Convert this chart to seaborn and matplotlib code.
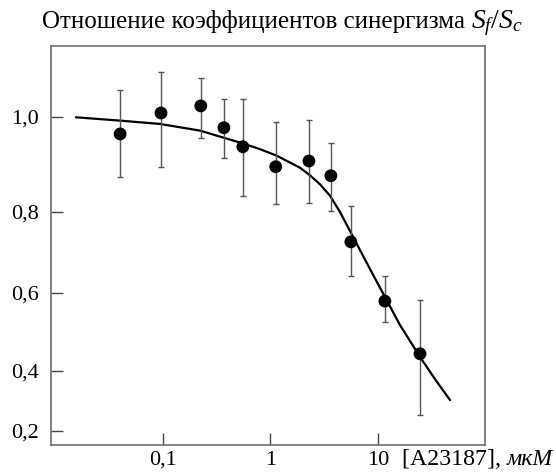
import numpy as np
import pandas as pd
import matplotlib
matplotlib.use("Agg")
import matplotlib.pyplot as plt
import seaborn as sns

# ---- data ----
conc = [0.040, 0.096, 0.225, 0.369, 0.554, 1.12, 2.28, 3.65, 5.6, 11.6, 24.6]
ratio = [0.964, 1.008, 1.023, 0.977, 0.937, 0.895, 0.907, 0.876, 0.726, 0.579, 0.444]
err_low = [0.874, 0.895, 0.956, 0.914, 0.834, 0.817, 0.819, 0.802, 0.642, 0.526, 0.253]
err_high = [1.057, 1.095, 1.082, 1.038, 1.038, 0.989, 0.994, 0.945, 0.813, 0.642, 0.582]

fit_conc = [0.0155, 0.0398, 0.0938, 0.221, 0.554, 0.798, 1.15, 1.455, 1.88, 2.33,
            2.89, 3.58, 4.43, 5.49, 6.80, 8.43, 11.6, 16.0, 24.6, 33.9, 46.8]
fit_ratio = [0.999, 0.992, 0.985, 0.971, 0.944, 0.932, 0.918, 0.906, 0.893, 0.877,
             0.858, 0.834, 0.800, 0.753, 0.706, 0.659, 0.590, 0.518, 0.436, 0.373, 0.303]

x_ticks = [0.1, 1, 10]
x_ticklabels = ["0,1", "1", "10"]
y_ticks = [0.2, 0.4, 0.6, 0.8, 1.0]
y_ticklabels = ["0,2", "0,4", "0,6", "0,8", "1,0"]

title_text = "Отношение коэффициентов синергизма "
title_math = r"$S_f/S_c$"
xlabel_text = "[A23187], "
xlabel_unit = "мкМ"

# non-uniform vertical axis of the original drawing (knots of the scale)
scale_vals = [0.0, 0.2, 0.4, 0.6, 0.8, 1.0, 1.4]
scale_pos = [-46, 14, 74, 152, 233, 328, 518]

pts = pd.DataFrame({"conc": conc, "ratio": ratio})
fit = pd.DataFrame({"conc": fit_conc, "ratio": fit_ratio})

sns.set_theme(style="white")
plt.rcParams["font.family"] = ["Liberation Serif", "DejaVu Serif"]
plt.rcParams["mathtext.fontset"] = "custom"
plt.rcParams["mathtext.rm"] = "Liberation Serif"
plt.rcParams["mathtext.it"] = "Liberation Serif:italic"

fig = plt.figure(figsize=(5.56, 4.75), dpi=100)
ax = fig.add_axes([51 / 556, 30 / 475, 434 / 556, 399 / 475])

sns.lineplot(data=fit, x="conc", y="ratio", ax=ax, color="black", lw=1.6, sort=True)
yerr = [np.array(ratio) - np.array(err_low), np.array(err_high) - np.array(ratio)]
ax.errorbar(conc, ratio, yerr=yerr, fmt="none", ecolor="#555555", elinewidth=1.0,
            capsize=2.2, capthick=1.0, zorder=2)
sns.scatterplot(data=pts, x="conc", y="ratio", ax=ax, color="black", s=85,
                edgecolor="none", zorder=3)

ax.set_xscale("log")
fwd = lambda v: np.interp(v, scale_vals, scale_pos)
inv = lambda d: np.interp(d, scale_pos, scale_vals)
ax.set_yscale("function", functions=(fwd, inv))

ax.set_xlim(0.0091, 99)
ax.set_ylim(0.1533, 1.149)

ax.set_xticks(x_ticks)
ax.set_xticklabels(x_ticklabels)
ax.xaxis.set_minor_locator(matplotlib.ticker.NullLocator())
ax.set_yticks(y_ticks)
ax.set_yticklabels(y_ticklabels)
ax.yaxis.set_minor_locator(matplotlib.ticker.NullLocator())
ax.get_yticklines()[0].set_visible(False)

ax.tick_params(axis="both", direction="in", length=8.6, width=1.0, color="#444444",
               labelsize=16, labelcolor="black", left=True, bottom=True)
ax.tick_params(axis="x", pad=4)
ax.tick_params(axis="y", pad=9)
for s in ax.spines.values():
    s.set_color("#6e6e6e")
    s.set_linewidth(1.2)
ax.set_xlabel("")
ax.set_ylabel("")

# title: regular text followed by the italic ratio
title_y = 1 - 28 / 475
t_title = fig.text(42 / 556, title_y, title_text, fontsize=18,
                   ha="left", va="baseline", color="black")
# x label: regular part then italic unit
xl_y = 1 - 465 / 475
t_xl = fig.text(402 / 556, xl_y, xlabel_text, fontsize=17.2,
                ha="left", va="baseline", color="black")

fig.canvas.draw()
W = fig.bbox.width
bb = t_title.get_window_extent()
fig.text(bb.x1 / W, title_y, title_math, fontsize=20, ha="left", va="baseline",
         color="black")
bb2 = t_xl.get_window_extent()
fig.text(bb2.x1 / W, xl_y, xlabel_unit, fontsize=17.2, style="italic", ha="left",
         va="baseline", color="black")

fig.savefig("out.png", dpi=100)
